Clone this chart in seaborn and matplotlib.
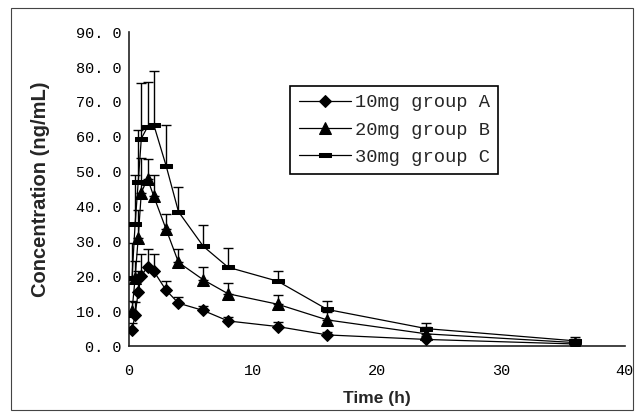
import numpy as np
import pandas as pd
import matplotlib
matplotlib.use("Agg")
import matplotlib.pyplot as plt
from matplotlib.patches import Rectangle
import seaborn as sns

sns.set_style("white")
plt.rcParams["font.family"] = ["Liberation Mono", "DejaVu Sans Mono"]

# sampling times (h)
times = [0.25, 0.5, 0.75, 1, 1.5, 2, 3, 4, 6, 8, 12, 16, 24, 36]

# mean concentration (ng/mL) and upper SD
conc_a = [4.5, 9.0, 15.5, 20.0, 22.8, 21.5, 16.0, 12.3, 10.2, 7.2, 5.6, 3.2, 1.9, 0.6]
sd_a = [2.0, 3.5, 6.0, 6.5, 5.0, 5.0, 2.6, 1.8, 1.2, 1.2, 1.3, 0.8, 1.0, 0.8]

conc_b = [10.0, 19.5, 31.0, 44.0, 48.0, 43.0, 33.5, 24.0, 19.0, 15.0, 12.0, 7.5, 3.5, 1.0]
sd_b = [3.0, 5.0, 8.0, 10.0, 5.5, 6.0, 4.5, 3.7, 3.6, 3.0, 2.6, 2.4, 2.0, 1.0]

conc_c = [19.5, 35.0, 47.0, 59.5, 62.8, 63.5, 51.7, 38.5, 28.6, 22.6, 18.6, 10.5, 5.0, 1.5]
sd_c = [10.0, 14.0, 15.0, 16.0, 13.0, 15.4, 11.7, 7.0, 6.0, 5.4, 2.8, 2.5, 1.5, 1.0]

groups = ["10mg group A", "20mg group B", "30mg group C"]

df = pd.DataFrame({
    "time": times * 3,
    "conc": conc_a + conc_b + conc_c,
    "sd": sd_a + sd_b + sd_c,
    "group": np.repeat(groups, len(times)),
})

bar_marker = [(-1, -0.35), (1, -0.35), (1, 0.35), (-1, 0.35), (-1, -0.35)]
markers = {groups[0]: "D", groups[1]: "^", groups[2]: bar_marker}
msizes = {groups[0]: 6, groups[1]: 8, groups[2]: 9}

fig = plt.figure(figsize=(6.35, 4.12), dpi=100)
ax = fig.add_axes([0.203, 0.160, 0.781, 0.762])

for g in groups:
    sub = df[df["group"] == g]
    # upper-only error bars
    ax.errorbar(sub["time"], sub["conc"], yerr=[np.zeros(len(sub)), sub["sd"]],
                fmt="none", ecolor="black", elinewidth=1.0, capsize=3.6,
                capthick=1.0, zorder=2)
    sns.lineplot(data=sub, x="time", y="conc", color="black", lw=0.9,
                 marker=markers[g], markersize=msizes[g], markeredgecolor="black",
                 markerfacecolor="black", label=g, ax=ax, zorder=3)

ax.set_xlim(0, 40)
ax.set_ylim(0, 90)
ax.set_xticks([0, 10, 20, 30, 40])
ax.set_yticks(np.arange(0, 91, 10))
ax.set_yticklabels([f"{v}. 0" for v in range(0, 91, 10)])
ax.tick_params(direction="in", length=4, width=1, labelsize=11, colors="black")
ax.tick_params(axis="y", pad=5)
ax.tick_params(axis="x", pad=13)

for side in ["top", "right"]:
    ax.spines[side].set_visible(False)
for side in ["left", "bottom"]:
    ax.spines[side].set_color("#222222")
    ax.spines[side].set_linewidth(1.2)

label_font = ["Liberation Sans", "DejaVu Sans"]
ax.set_xlabel("Time (h)", fontweight="bold", fontsize=12.5, family=label_font, labelpad=9)
ax.set_ylabel("Concentration (ng/mL)", fontweight="bold", fontsize=14.5, family=label_font,
              labelpad=19)

leg = ax.legend(loc="upper left", bbox_to_anchor=(0.325, 0.83), frameon=True,
                fancybox=False, edgecolor="black", framealpha=1, fontsize=13.5,
                handlelength=2.8, handletextpad=0.2, borderpad=0.45, labelspacing=0.55,
                borderaxespad=0)
leg.get_frame().set_linewidth(1.2)

# thin frame around the whole picture
fig.patches.append(Rectangle((0.017, 0.005), 0.98, 0.975, transform=fig.transFigure,
                             fill=False, edgecolor="#444444", lw=0.8))

fig.savefig("out.png", dpi=100)
